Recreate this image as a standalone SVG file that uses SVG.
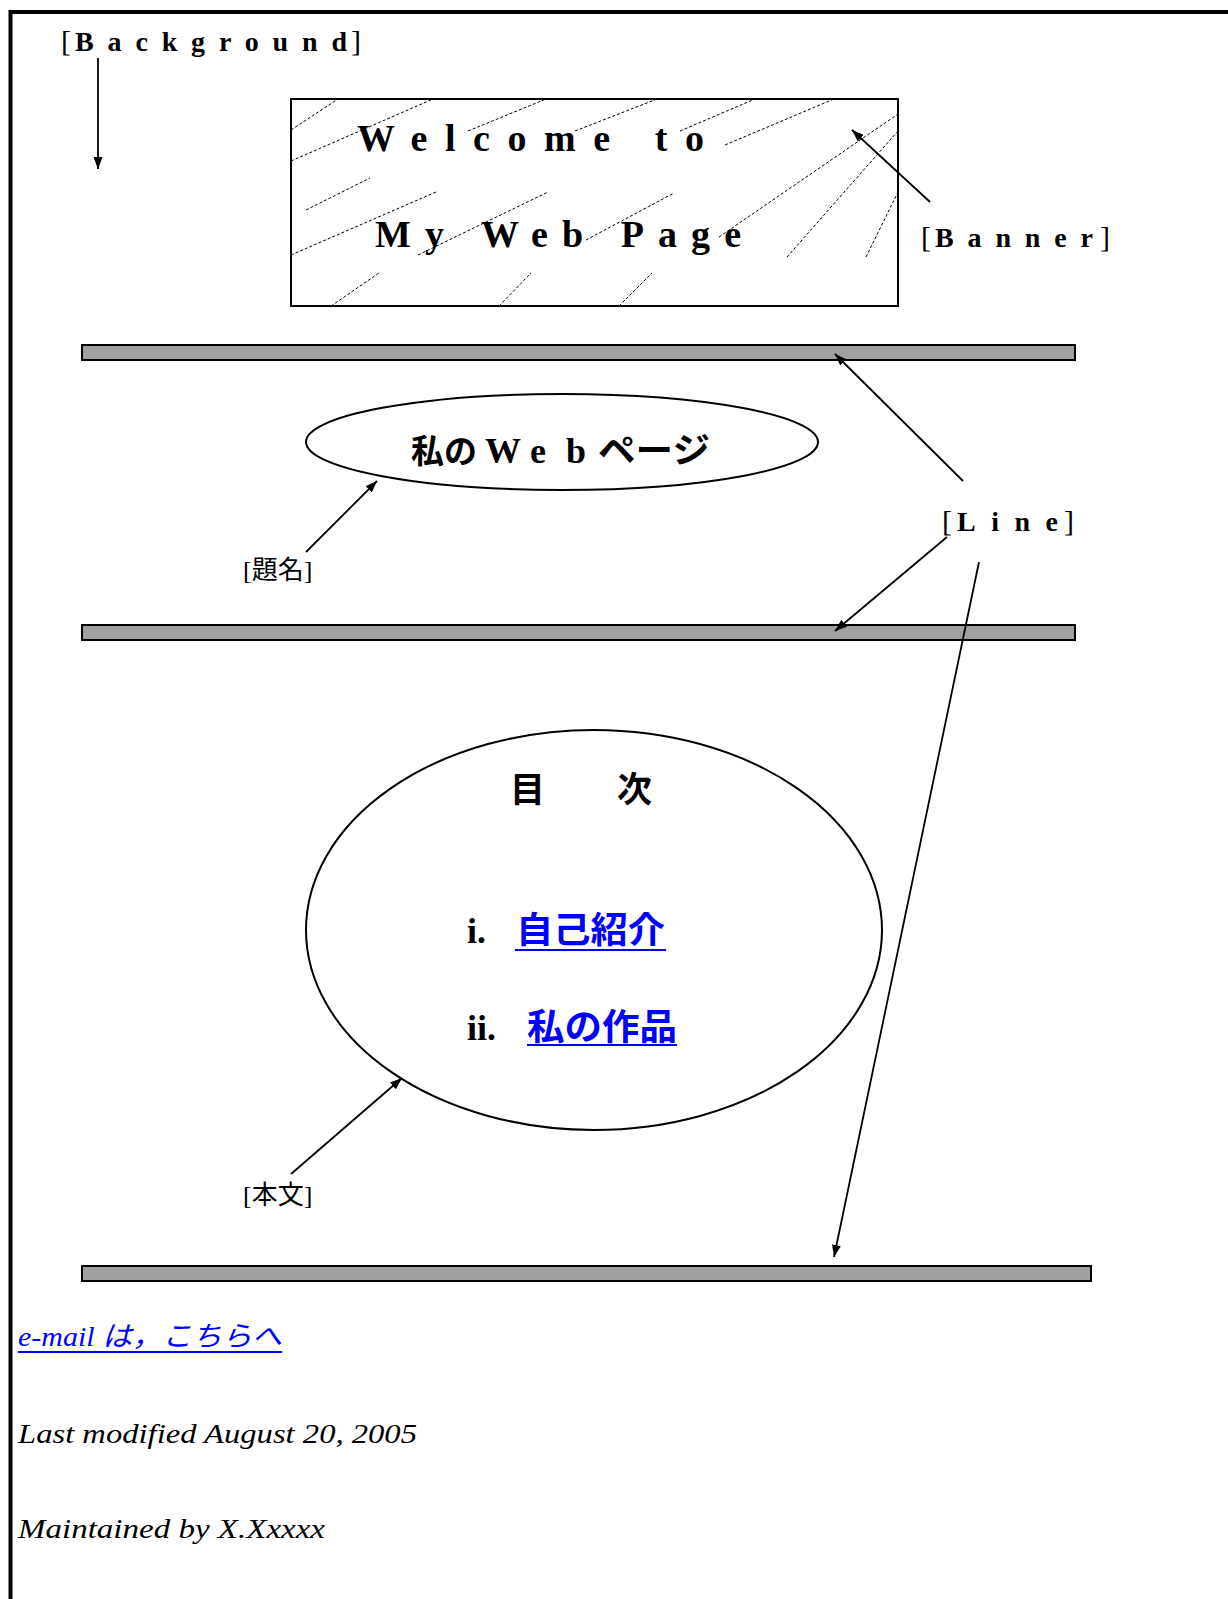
<svg xmlns="http://www.w3.org/2000/svg" width="1228" height="1599" viewBox="0 0 1228 1599">
<style>
.lbl{font-family:"Liberation Serif","Noto Sans CJK JP",serif;font-weight:bold;font-size:28px;fill:#000}
.brk{font-family:"Liberation Serif",serif;font-size:30px;fill:#000}
.jlbl{font-family:"Liberation Serif","Noto Sans CJK JP",serif;font-size:26px;fill:#000}
.big{font-family:"Liberation Serif","Noto Sans CJK JP",serif;font-weight:bold;font-size:38px;fill:#000}
.cjk{font-family:"Noto Sans CJK JP",sans-serif;font-weight:bold;fill:#000}
.link{font-family:"Noto Sans CJK JP",sans-serif;font-weight:bold;font-size:36px;fill:#0000ff}
.num{font-family:"Liberation Serif",serif;font-weight:bold;font-size:36px;fill:#000}
.foot{font-family:"Liberation Serif","Noto Sans CJK JP",serif;font-style:italic;font-size:28px;fill:#000}
.bar{fill:#a0a0a0;stroke:#000;stroke-width:2}
.hatch{stroke:#000;stroke-width:1;stroke-dasharray:3 2;fill:none}
.conn{stroke:#000;stroke-width:1.8;fill:none;marker-end:url(#ah)}
.shape{fill:#fff;stroke:#000;stroke-width:2}
.ul{stroke:#0000ff;stroke-width:2}
</style>
<defs>
<marker id="ah" viewBox="0 0 12 9" refX="12" refY="4.5" markerWidth="12" markerHeight="9" markerUnits="userSpaceOnUse" orient="auto"><path d="M0,0 L12,4.5 L0,9 z" fill="#000"/></marker>
</defs>
<rect x="0" y="0" width="1228" height="1599" fill="#fff"/>
<path d="M10.5,1599 V12 H1228" fill="none" stroke="#000" stroke-width="4"/>

<g id="background-label">
<text class="brk" x="61" y="51">[</text>
<text class="lbl" x="75" y="51" textLength="272" lengthAdjust="spacing">Background</text>
<text class="brk" x="351" y="51">]</text>
</g>

<g id="banner">
<rect class="shape" x="291" y="99" width="607" height="207" stroke-width="2"/>
<g class="hatch">
<line x1="291" y1="130" x2="338" y2="99"/>
<line x1="291" y1="161" x2="433" y2="99"/>
<line x1="468" y1="131" x2="546" y2="99"/>
<line x1="575" y1="131" x2="657" y2="99"/>
<line x1="680" y1="131" x2="755" y2="99"/>
<line x1="725" y1="145" x2="834" y2="99"/>
<line x1="719" y1="237" x2="898" y2="114"/>
<line x1="787" y1="257" x2="898" y2="131"/>
<line x1="866" y1="257" x2="898" y2="192"/>
<line x1="306" y1="210" x2="370" y2="178"/>
<line x1="291" y1="255" x2="436" y2="192"/>
<line x1="418" y1="255" x2="548" y2="192"/>
<line x1="586" y1="240" x2="674" y2="193"/>
<line x1="331" y1="306" x2="379" y2="273"/>
<line x1="499" y1="306" x2="531" y2="273"/>
<line x1="619" y1="306" x2="652" y2="273"/>
</g>
<text class="big" x="357" y="151" textLength="347" lengthAdjust="spacing">Welcome to</text>
<text class="big" x="375" y="247" textLength="366" lengthAdjust="spacing">My Web Page</text>
</g>

<g id="banner-label">
<text class="brk" x="921" y="247">[</text>
<text class="lbl" x="935" y="247" textLength="158" lengthAdjust="spacing">Banner</text>
<text class="brk" x="1100" y="247">]</text>
</g>

<g id="line1"><rect class="bar" x="82" y="345" width="993" height="15"/></g>
<g id="line2"><rect class="bar" x="82" y="625" width="993" height="15"/></g>
<g id="line3"><rect class="bar" x="82" y="1266" width="1009" height="15"/></g>

<g id="title">
<ellipse class="shape" cx="562" cy="442" rx="256" ry="48"/>
<text class="cjk" y="463" font-size="33"><tspan x="411">私の</tspan><tspan x="485" font-family="Liberation Serif" font-size="36">W</tspan><tspan x="530" font-family="Liberation Serif" font-size="36">e</tspan><tspan x="566" font-family="Liberation Serif" font-size="36">b</tspan></text>
<text class="cjk" x="598" y="463" font-size="35" textLength="112" lengthAdjust="spacingAndGlyphs">ページ</text>
</g>

<g id="title-label">
<text class="jlbl" x="243" y="579">[題名]</text>
</g>

<g id="line-label">
<text class="brk" x="942" y="531">[</text>
<text class="lbl" x="957" y="531" textLength="101" lengthAdjust="spacing">Line</text>
<text class="brk" x="1064" y="531">]</text>
</g>

<g id="body">
<ellipse class="shape" cx="594" cy="930" rx="288" ry="200"/>
<text class="cjk" y="802" font-size="35"><tspan x="510">目</tspan><tspan x="617">次</tspan></text>
<text class="num" x="467" y="943">i.</text>
<text class="link" x="516" y="943" textLength="149" lengthAdjust="spacingAndGlyphs">自己紹介</text>
<line class="ul" x1="515" y1="950" x2="666" y2="950"/>
<text class="num" x="467" y="1040">ii.</text>
<text class="link" x="527" y="1040" textLength="150" lengthAdjust="spacingAndGlyphs">私の作品</text>
<line class="ul" x1="527" y1="1045" x2="677" y2="1045"/>
</g>

<g id="body-label">
<text class="jlbl" x="243" y="1204">[本文]</text>
</g>

<g id="footer">
<text class="foot" x="18" y="1346" style="fill:#0000ff" textLength="264" lengthAdjust="spacingAndGlyphs">e-mail は，こちらへ</text>
<line class="ul" x1="18" y1="1352" x2="282" y2="1352"/>
<text class="foot" x="18" y="1443" textLength="399" lengthAdjust="spacingAndGlyphs">Last modified August 20, 2005</text>
<text class="foot" x="18" y="1538" textLength="307" lengthAdjust="spacingAndGlyphs">Maintained by X.Xxxxx</text>
</g>

<g id="connectors">
<line class="conn" x1="98" y1="58" x2="98" y2="169"/>
<line class="conn" x1="930" y1="202" x2="852" y2="130"/>
<line class="conn" x1="306" y1="552" x2="377" y2="481"/>
<line class="conn" x1="963" y1="481" x2="835" y2="354"/>
<line class="conn" x1="947" y1="537" x2="835" y2="631"/>
<line class="conn" x1="979" y1="562" x2="834" y2="1257"/>
<line class="conn" x1="291" y1="1174" x2="402" y2="1078"/>
</g>
</svg>
